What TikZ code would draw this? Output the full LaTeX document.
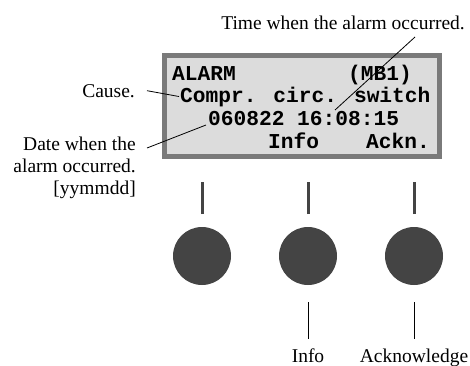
\documentclass[tikz,border=0pt]{standalone}
\usepackage{fontspec}
\setmainfont{Liberation Serif}
\newfontfamily\lcdfont{Liberation Mono}
\definecolor{lcdgray}{HTML}{DCDCDC}
\definecolor{framegray}{HTML}{7A7A7A}
\definecolor{knobgray}{HTML}{444444}
\tikzset{
  lcd/.style={font={\lcdfont\bfseries\fontsize{21.2}{24}\selectfont}, inner sep=0pt, anchor=base west},
  lbl/.style={font={\fontsize{19.5}{22}\selectfont}, inner sep=0pt},
  knob/.style={circle, fill=knobgray, minimum size=58pt, inner sep=0pt, outer sep=0pt},
  bar/.style={knobgray, line width=3pt},
  lead/.style={black, line width=0.8pt},
}
\begin{document}
\begin{tikzpicture}[x=1pt, y=-1pt]
  \useasboundingbox (0,0) rectangle (470,365);
  % display
  \draw[framegray, fill=lcdgray, line width=5pt] (164.5,55.5) rectangle (439.5,156.5);
  \node[lcd] (alarm) at (172,80) {ALARM};
  \node[lcd] (unit) at (348,80) {(MB1)};
  \node[lcd] (cause) at (180,102) {Compr. circ. switch};
  \node[lcd] (stamp) at (208,125) {060822 16:08:15};
  \node[lcd] (info) at (268,148) {Info};
  \node[lcd] (ackn) at (366,148) {Ackn.};
  % callouts
  \node[lbl, anchor=base east] (timelbl) at (465,29) {Time when the alarm occurred.};
  \node[lbl, anchor=base east] (causelbl) at (135,97) {Cause.};
  \node[lbl, anchor=north east, align=right] (datelbl) at (136,136.5) {Date when the\\alarm occurred.\\{[yymmdd]}};
  \coordinate (timept) at (335,110);
  \draw[lead] ([shift={(-50,8)}]timelbl.base east) -- (timept);
  \draw[lead] ([xshift=12pt]causelbl.east) -- ([xshift=-1pt]cause.west);
  \draw[lead] ([shift={(11,11.5)}]datelbl.north east) -- ([xshift=-2pt]stamp.base west);
  % buttons
  \foreach \x [count=\i] in {202,308,414} {
    \node[knob] (btn\i) at (\x,256) {};
    \draw[bar] ([yshift=13pt]btn\i.north) -- ++(0,-32);
  }
  \node[lbl, anchor=base] (infolbl) at (308,362) {Info};
  \node[lbl, anchor=base] (acklbl) at (414,362) {Acknowledge};
  \draw[lead] ([yshift=-17pt]btn2.south) -- ([yshift=9pt]infolbl.north);
  \draw[lead] ([yshift=-17pt]btn3.south) -- ([yshift=9pt]acklbl.north);
\end{tikzpicture}
\end{document}
